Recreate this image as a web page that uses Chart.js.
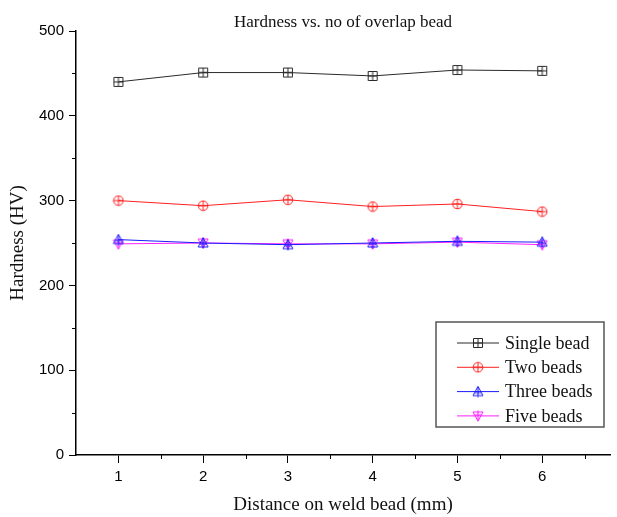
<!DOCTYPE html>
<html>
<head>
<meta charset="utf-8">
<script src="https://cdn.jsdelivr.net/npm/chart.js@4"></script>
<style>
  html, body { margin:0; padding:0; background:#fff; }
  #wrap { width:617px; height:517px; position:relative; }
</style>
</head>
<body>
<div id="wrap"><canvas id="hardnessChart"></canvas></div>
<script>
const distances = [1, 2, 3, 4, 5, 6];
const singleBead = [440, 451, 451, 447, 454, 453];
const twoBeads   = [300, 294, 301, 293, 296, 287];
const threeBeads = [254, 250, 248, 250, 252, 251];
const fiveBeads  = [249, 250, 249, 249, 251, 248];
const seriesNames = ["Single bead", "Two beads", "Three beads", "Five beads"];
const yTicks = [0, 100, 200, 300, 400, 500];

// marker images: open shapes with a cross inside, like the origin plot
function marker(kind, color){
  const c = document.createElement("canvas");
  c.width = 12; c.height = 12;
  const g = c.getContext("2d");
  g.strokeStyle = color; g.lineWidth = 1;
  g.beginPath();
  if(kind === "square"){
    g.rect(1.5, 1.5, 9, 9);
    g.moveTo(6, 1.5); g.lineTo(6, 10.5);
    g.moveTo(1.5, 6); g.lineTo(10.5, 6);
  } else if(kind === "circle"){
    g.arc(6, 6, 4.8, 0, Math.PI*2);
    g.moveTo(6, 1.2); g.lineTo(6, 10.8);
    g.moveTo(1.2, 6); g.lineTo(10.8, 6);
  } else if(kind === "up"){
    g.moveTo(6, 0.8); g.lineTo(11, 10); g.lineTo(1, 10); g.closePath();
    g.moveTo(6, 0.8); g.lineTo(6, 11.5);
    g.moveTo(3, 7); g.lineTo(9, 7);
  } else {
    g.moveTo(6, 11.2); g.lineTo(11, 2); g.lineTo(1, 2); g.closePath();
    g.moveTo(6, 0.5); g.lineTo(6, 11.2);
    g.moveTo(3, 5); g.lineTo(9, 5);
  }
  g.stroke();
  return c;
}

const colors = ["#2a2a2a", "#ff2020", "#1a1aff", "#ff20ff"];
const shapes = ["square", "circle", "up", "down"];
const seriesData = [singleBead, twoBeads, threeBeads, fiveBeads];

const datasets = seriesData.map((vals, i) => ({
  label: seriesNames[i],
  data: distances.map((d, k) => ({ x: d, y: vals[k] })),
  borderColor: colors[i],
  backgroundColor: colors[i],
  borderWidth: 1,
  pointStyle: marker(shapes[i], colors[i]),
  pointRadius: 6,
  tension: 0
}));

// minor ticks at the half steps
const minorTicks = {
  id: "minorTicks",
  afterDraw(chart){
    const {ctx, scales:{x, y}, chartArea:a} = chart;
    ctx.save();
    ctx.strokeStyle = "#000"; ctx.lineWidth = 1;
    ctx.beginPath();
    for(let v = 1.5; v < x.max; v += 1){
      const px = Math.round(x.getPixelForValue(v)) + 0.5;
      ctx.moveTo(px, a.bottom); ctx.lineTo(px, a.bottom + 4);
    }
    for(let v = 50; v < 500; v += 100){
      const py = Math.round(y.getPixelForValue(v)) + 0.5;
      ctx.moveTo(a.left, py); ctx.lineTo(a.left - 4, py);
    }
    ctx.stroke();
    ctx.restore();
  }
};

// boxed legend inside the plot, lower right
const boxLegend = {
  id: "boxLegend",
  afterDraw(chart){
    const ctx = chart.ctx;
    const bx = 436, by = 322, bw = 168, bh = 105;
    ctx.save();
    ctx.strokeStyle = "#555"; ctx.lineWidth = 1.5;
    ctx.strokeRect(bx, by, bw, bh);
    ctx.font = "18px 'Liberation Serif', serif";
    ctx.textBaseline = "middle";
    ctx.fillStyle = "#111";
    chart.data.datasets.forEach((ds, i) => {
      const ry = 343 + i * 24.3;
      ctx.strokeStyle = ds.borderColor; ctx.lineWidth = 1;
      ctx.beginPath(); ctx.moveTo(457, ry); ctx.lineTo(499, ry); ctx.stroke();
      ctx.drawImage(ds.pointStyle, 478 - 6, ry - 6);
      ctx.fillText(ds.label, 505, ry + 1);
    });
    ctx.restore();
  }
};

new Chart(document.getElementById("hardnessChart"), {
  type: "line",
  data: { datasets },
  plugins: [minorTicks, boxLegend],
  options: {
    responsive: true,
    maintainAspectRatio: false,
    animation: false,
    layout: { padding: 0 },
    scales: {
      x: {
        type: "linear",
        min: 0.5, max: 6.8,
        afterBuildTicks: s => { s.ticks = distances.map(v => ({ value: v })); },
        afterFit: s => { s.height = 62; },
        grid: { drawOnChartArea: false, drawTicks: true, tickLength: 8, color: "#000" },
        border: { display: true, color: "#000", width: 1.5 },
        ticks: { color: "#000", font: { family: "'Liberation Sans', Arial", size: 15 }, padding: 5, maxRotation: 0 },
        title: { display: true, text: "Distance on weld bead (mm)", color: "#111",
                 font: { family: "'Liberation Serif', serif", size: 19 }, padding: { top: 0, bottom: 1 } }
      },
      y: {
        min: 0, max: 500,
        afterBuildTicks: s => { s.ticks = yTicks.map(v => ({ value: v })); },
        afterFit: s => { s.width = 76; },
        grid: { drawOnChartArea: false, drawTicks: true, tickLength: 7, color: "#000" },
        border: { display: true, color: "#000", width: 1.5 },
        ticks: { color: "#000", font: { family: "'Liberation Sans', Arial", size: 15 }, padding: 5 },
        title: { display: true, text: "Hardness (HV)", color: "#111",
                 font: { family: "'Liberation Serif', serif", size: 19 }, padding: { top: 7, bottom: 0 } }
      }
    },
    plugins: {
      legend: { display: false },
      tooltip: { enabled: false },
      title: {
        display: true, fullSize: false,
        text: "Hardness vs. no of overlap bead",
        color: "#111",
        font: { family: "'Liberation Serif', serif", size: 17, weight: "normal", lineHeight: 1 },
        padding: { top: 14, bottom: 0 }
      }
    }
  }
});
</script>
</body>
</html>
